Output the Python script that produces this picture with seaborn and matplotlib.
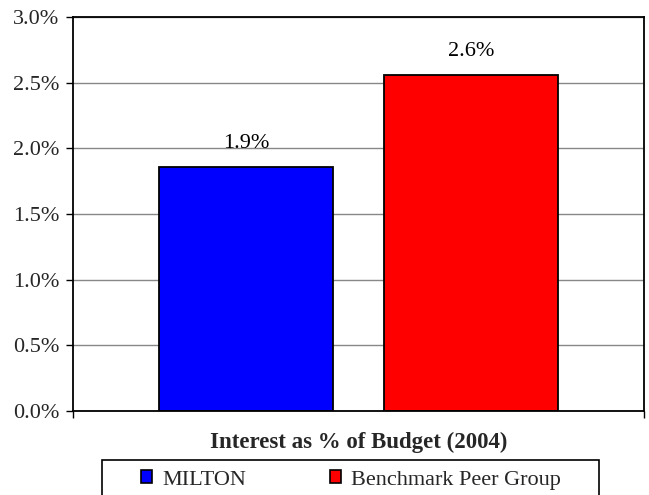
import matplotlib
matplotlib.use("Agg")
import matplotlib.pyplot as plt
from matplotlib.patches import Rectangle
import seaborn as sns
import pandas as pd

# Chart data
category = ["Interest as % of Budget (2004)"]
series = ["MILTON", "Benchmark Peer Group"]
values = [1.857, 2.557]          # percent
value_labels = ["1.9%", "2.6%"]
colors = ["#0000FF", "#FF0000"]
y_ticks = [0.0, 0.5, 1.0, 1.5, 2.0, 2.5, 3.0]

df = pd.DataFrame({"cat": category * len(series), "series": series, "value": values})

sns.set_theme(style="white")
plt.rcParams["font.family"] = ["Liberation Serif", "DejaVu Serif"]

W, H = 649, 495
fig = plt.figure(figsize=(W / 100, H / 100), dpi=100)
ax = fig.add_axes([73 / W, 1 - 411 / H, (644 - 73) / W, (411 - 17) / H])

sns.barplot(data=df, x="cat", y="value", hue="series", hue_order=series,
            palette=colors, width=0.788, gap=0.23, edgecolor="black",
            linewidth=1.3, saturation=1, ax=ax, legend=False, errorbar=None)

for cont, lab in zip(ax.containers, value_labels):
    ax.bar_label(cont, labels=[lab], padding=10, fontsize=16, color="black")

ax.set_xlim(-0.5, 0.5)
ax.set_ylim(0, 3.0)
ax.set_yticks(y_ticks)
ax.set_yticklabels([f"{t:.1f}%" for t in y_ticks], fontsize=16)
ax.yaxis.grid(True, color="#888888", linewidth=1)
ax.set_axisbelow(True)

ax.set_xticks([-0.5, 0.5])
ax.set_xticklabels(["", ""])
ax.set_xlabel(category[0], fontsize=16.5, fontweight="bold")
ax.xaxis.set_label_coords(0.5, -(442 - 411) / (411 - 17))
ax.xaxis.label.set_va("center")
ax.set_ylabel("")
ax.tick_params(axis="both", direction="out", length=5, width=1, color="black",
               bottom=True, left=True, pad=5)

for s in ax.spines.values():
    s.set_color("black")
    s.set_linewidth(1.3)

# Legend box below the chart
fig.patches.append(Rectangle((102 / W, 1 - 497 / H), (599 - 102) / W, (497 - 460) / H,
                             transform=fig.transFigure, fill=False,
                             edgecolor="black", linewidth=1.2))
handles = [Rectangle((0, 0), 1, 1, fc=c, ec="black", lw=1.2) for c in colors]
fig.legend(handles=handles, labels=series, loc="center",
           bbox_to_anchor=(351 / W, 1 - 480 / H), ncol=2, frameon=False,
           fontsize=16, handlelength=0.5, handleheight=0.5, handletextpad=0.45,
           columnspacing=3.8, borderpad=0, borderaxespad=0)

fig.savefig("out.png", dpi=100, facecolor="white")
